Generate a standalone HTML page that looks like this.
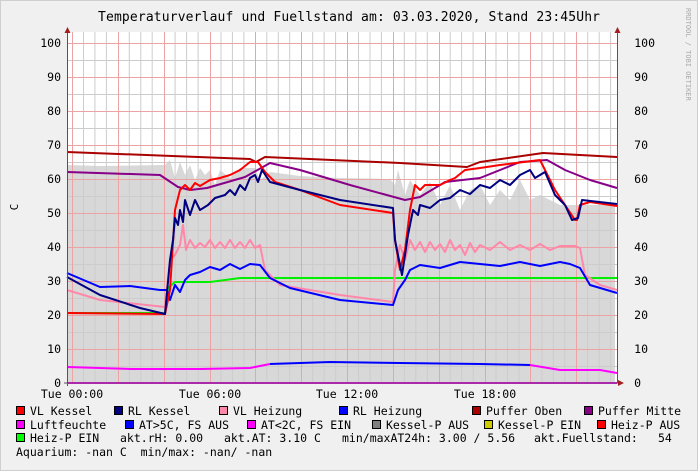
<!DOCTYPE html><html><head><style>body{margin:0;background:#f0f0f0}svg{display:block}text{font-family:"DejaVu Sans Mono","Liberation Mono",monospace}</style></head><body>
<svg width="698" height="471" viewBox="0 0 698 471" xmlns="http://www.w3.org/2000/svg">
<rect x="0" y="0" width="698" height="471" fill="#f0f0f0" stroke="#cfcfcf" stroke-width="2"/>
<rect x="67" y="32" width="550" height="351" fill="#fff"/>
<polygon fill="#d8d8d8" points="67,383 67,165 100,166 165,165 170,160 175,178 180,162 185,175 190,165 195,180 200,168 205,175 210,170 215,185 220,170 230,178 240,168 255,168 260,180 270,172 300,176 340,178 390,179 395,185 398,170 405,195 410,180 420,195 430,182 440,205 450,185 460,210 470,190 480,185 490,205 500,190 510,200 520,180 530,200 540,195 560,205 580,205 615,205 615,383"/>
<g stroke="#cccccc" stroke-width="1">
<path d="M67,366.5H617M67,332.5H617M67,298.5H617M67,264.5H617M67,230.5H617M67,196.5H617M67,162.5H617M67,128.5H617M67,94.5H617M67,60.5H617"/>
<path d="M83.5,32V383M94.9,32V383M106.4,32V383M129.3,32V383M140.8,32V383M152.2,32V383M175.1,32V383M186.6,32V383M198.1,32V383M221,32V383M232.4,32V383M243.9,32V383M266.8,32V383M278.3,32V383M289.7,32V383M312.7,32V383M324.1,32V383M335.6,32V383M358.5,32V383M370,32V383M381.4,32V383M404.3,32V383M415.8,32V383M427.3,32V383M450.2,32V383M461.6,32V383M473.1,32V383M496,32V383M507.5,32V383M518.9,32V383M541.9,32V383M553.3,32V383M564.8,32V383M587.7,32V383M599.2,32V383M610.6,32V383"/>
</g>
<g stroke="#eba3a3" stroke-width="1">
<path d="M67,349.5H617M67,315.5H617M67,281.5H617M67,247.5H617M67,213.5H617M67,179.5H617M67,145.5H617M67,111.5H617M67,77.5H617M67,43.5H617"/>
<path d="M72.5,32V383M118.5,32V383M164.5,32V383M210.5,32V383M255.5,32V383M301.5,32V383M347.5,32V383M393.5,32V383M439.5,32V383M485.5,32V383M530.5,32V383M576.5,32V383"/>
</g>
<g fill="none" stroke-width="2" stroke-linejoin="round">
<polyline stroke="#aa0000" points="67,152 250,159 256,162 265,157 400,163 467,167 480,162 543,153 617,157"/>
<polyline stroke="#880088" points="67,172 160,175 178,187 190,190 207,188 245,177 270,163 300,170 350,185 405,200 420,197 445,182 480,178 520,162 547,160 565,170 590,180 617,188"/>
<polyline stroke="#00ee00" points="67,313 165,313 168,288 175,282 210,282 240,278 617,278"/>
<polyline stroke="#ff88aa" points="67,290 100,300 165,307 170,260 175,255 180,245 183,225 186,250 190,240 195,248 200,243 205,247 210,240 215,248 220,242 225,248 230,240 235,248 240,242 245,248 250,240 255,248 260,245 265,270 280,285 340,295 393,302 395,270 400,245 405,260 410,240 415,250 420,242 425,252 430,242 435,250 440,244 445,252 450,240 455,250 460,245 465,255 470,243 475,252 480,245 490,250 500,242 510,250 520,245 530,250 540,244 550,250 560,246 575,246 580,248 585,275 600,285 617,290"/>
<polyline stroke="#0000ff" points="67,273 100,287 130,286 160,290 167,290 170,300 175,285 180,292 185,280 190,275 200,272 210,267 220,270 230,264 240,269 250,264 260,265 270,278 290,288 340,300 393,305 398,290 405,280 410,270 420,265 440,268 460,262 480,264 500,266 520,262 540,266 560,262 570,264 580,268 590,285 617,293"/>
<polyline stroke="#ff0000" points="67,313 165,314 170,290 175,210 180,190 185,185 190,190 195,183 200,186 210,180 220,178 230,175 240,170 250,162 258,162 265,172 275,182 300,190 340,205 393,213 395,240 400,270 405,250 410,210 415,185 420,190 425,185 440,185 450,180 455,178 465,170 480,168 500,165 540,160 545,170 555,190 565,205 575,220 577,220 580,205 590,202 617,206"/>
<polyline stroke="#000080" points="67,277 100,295 140,308 165,314 170,260 173,240 175,218 178,225 180,210 183,222 185,200 190,215 195,200 200,210 208,205 215,198 225,195 230,190 235,195 240,185 245,190 250,178 255,175 258,182 262,170 270,182 300,190 340,200 393,208 395,240 402,275 408,235 413,210 418,215 420,205 430,208 440,200 450,198 460,190 470,194 480,185 490,188 500,180 510,185 520,175 530,170 535,178 545,172 555,195 565,205 572,220 578,218 582,200 617,204"/>
<polyline stroke="#ff00ff" points="67,367 130,369 200,369 250,368 270,364"/>
<polyline stroke="#0000ff" points="270,364 330,362 400,363 480,364 530,365"/>
<polyline stroke="#ff00ff" points="530,365 560,370 600,370 617,373"/>
<path stroke="#ff00ff" d="M67,383H617"/>
</g>
<g stroke="#555" stroke-width="1"><path d="M67.5,32V386M64,383H622"/></g>
<path d="M67.5,27l-3,6h6z M624,383l-6,-3v6z" fill="#a02020"/>
<path d="M617.5,27l-3,6h6z" fill="#a02020"/>
<path d="M617.5,32V383" stroke="#555"/>
<g font-size="11.5" fill="#000" text-anchor="end">
<text x="61" y="47">100</text><text x="61" y="81">90</text><text x="61" y="115">80</text><text x="61" y="149">70</text><text x="61" y="183">60</text><text x="61" y="217">50</text><text x="61" y="251">40</text><text x="61" y="285">30</text><text x="61" y="319">20</text><text x="61" y="353">10</text><text x="61" y="387">0</text>
</g>
<g font-size="11.5" fill="#000" text-anchor="end">
<text x="655" y="47">100</text><text x="648" y="81">90</text><text x="648" y="115">80</text><text x="648" y="149">70</text><text x="648" y="183">60</text><text x="648" y="217">50</text><text x="648" y="251">40</text><text x="648" y="285">30</text><text x="648" y="319">20</text><text x="648" y="353">10</text><text x="641" y="387">0</text>
</g>
<g font-size="11.5" text-anchor="middle">
<text x="72" y="398">Tue 00:00</text><text x="210" y="398">Tue 06:00</text><text x="347" y="398">Tue 12:00</text><text x="485" y="398">Tue 18:00</text>
</g>
<text x="349" y="21" font-size="13" text-anchor="middle" textLength="502">Temperaturverlauf und Fuellstand am: 03.03.2020, Stand 23:45Uhr</text>
<text transform="translate(18,207) rotate(-90)" font-size="11" text-anchor="middle">C</text>
<text transform="translate(686,8) rotate(90)" font-size="7" fill="#aaa">RRDTOOL / TOBI OETIKER</text>
<g stroke="#000" stroke-width="1">
<rect x="16.5" y="406.5" width="8" height="8" fill="#ff0000"/><rect x="114.5" y="406.5" width="8" height="8" fill="#000080"/><rect x="219.5" y="406.5" width="8" height="8" fill="#ff88aa"/><rect x="339.5" y="406.5" width="8" height="8" fill="#0000ff"/><rect x="472.5" y="406.5" width="8" height="8" fill="#aa0000"/><rect x="584.5" y="406.5" width="8" height="8" fill="#880088"/>
<rect x="16.5" y="420.5" width="8" height="8" fill="#ff00ff"/><rect x="125.5" y="420.5" width="8" height="8" fill="#0000ff"/><rect x="247.5" y="420.5" width="8" height="8" fill="#ff00ff"/><rect x="372.5" y="420.5" width="8" height="8" fill="#808080"/><rect x="484.5" y="420.5" width="8" height="8" fill="#cccc00"/><rect x="597.5" y="420.5" width="8" height="8" fill="#ff0000"/>
<rect x="16.5" y="433.5" width="8" height="8" fill="#00ff00"/>
</g>
<g font-size="11.5">
<text x="30" y="415">VL Kessel</text><text x="128" y="415">RL Kessel</text><text x="233" y="415">VL Heizung</text><text x="353" y="415">RL Heizung</text><text x="486" y="415">Puffer Oben</text><text x="598" y="415">Puffer Mitte</text>
<text x="30" y="429">Luftfeuchte</text><text x="139" y="429">AT&gt;5C, FS AUS</text><text x="261" y="429">AT&lt;2C, FS EIN</text><text x="386" y="429">Kessel-P AUS</text><text x="498" y="429">Kessel-P EIN</text><text x="611" y="429">Heiz-P AUS</text>
<text x="30" y="442">Heiz-P EIN</text><text x="120" y="442">akt.rH: 0.00</text><text x="224" y="442">akt.AT: 3.10 C</text><text x="342" y="442">min/maxAT24h: 3.00 / 5.56</text><text x="534" y="442">akt.Fuellstand:</text><text x="658" y="442">54</text>
<text x="16" y="456" xml:space="preserve">Aquarium: -nan C  min/max: -nan/ -nan</text>
</g>
</svg>
</body></html>
